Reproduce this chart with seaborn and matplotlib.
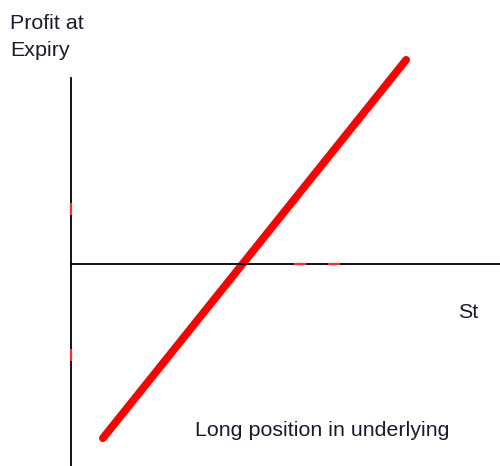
import numpy as np
import matplotlib
matplotlib.use("Agg")
import matplotlib.pyplot as plt
import seaborn as sns

sns.set_theme(style="white")
plt.rcParams['font.family'] = ['Liberation Sans', 'DejaVu Sans']

# payoff of a long position in the underlying: profit = St - S0
s0 = 50
st = np.array([9.3, 97.7])
profit = st - s0

# small red marks left on the axes
ymarks = [12.85, -21.26]
xmarks = [66.8, 76.8]

fig = plt.figure(figsize=(5, 4.66), dpi=100)
ax = fig.add_axes([0, 0, 1, 1])

sns.lineplot(x=st, y=profit, color="#ff0000", linewidth=5.6,
             solid_capstyle="round", ax=ax)

ax.plot(np.zeros(len(ymarks)), ymarks, ls="none", marker="|",
        markersize=8.5, markeredgewidth=1.6, color="#ff2a2a", zorder=5)
ax.plot(xmarks, np.zeros(len(xmarks)), ls="none", marker="_",
        markersize=9, markeredgewidth=1.6, color="#ff2a2a", zorder=5)

ax.set_xlim(-20.70, 125.07)
ax.set_ylim(-47.20, 61.68)

# axes crossing at the origin
for side in ["top", "right"]:
    ax.spines[side].set_visible(False)
ax.spines["left"].set_position(("data", 0))
ax.spines["bottom"].set_position(("data", 0))
ax.spines["left"].set_bounds(-47.2, 43.5)
ax.spines["bottom"].set_bounds(0, 125.07)
for side in ["left", "bottom"]:
    ax.spines[side].set_color("black")
    ax.spines[side].set_linewidth(1.3)
ax.set_xticks([])
ax.set_yticks([])
ax.patch.set_alpha(0)

txt = "#1a1a2a"
ax.text(0.02, 0.9378, "Profit at", transform=ax.transAxes, fontsize=15.4,
        va="baseline", color=txt)
ax.text(0.02, 0.8798, "Expiry", transform=ax.transAxes, fontsize=15.4,
        va="baseline", color=txt)
ax.text(0.916, 0.3176, "St", transform=ax.transAxes, fontsize=15.4,
        va="baseline", color=txt)
ax.text(0.39, 0.0644, "Long position in underlying", transform=ax.transAxes,
        fontsize=15.4, va="baseline", color=txt)

fig.savefig("out.png", dpi=100)
